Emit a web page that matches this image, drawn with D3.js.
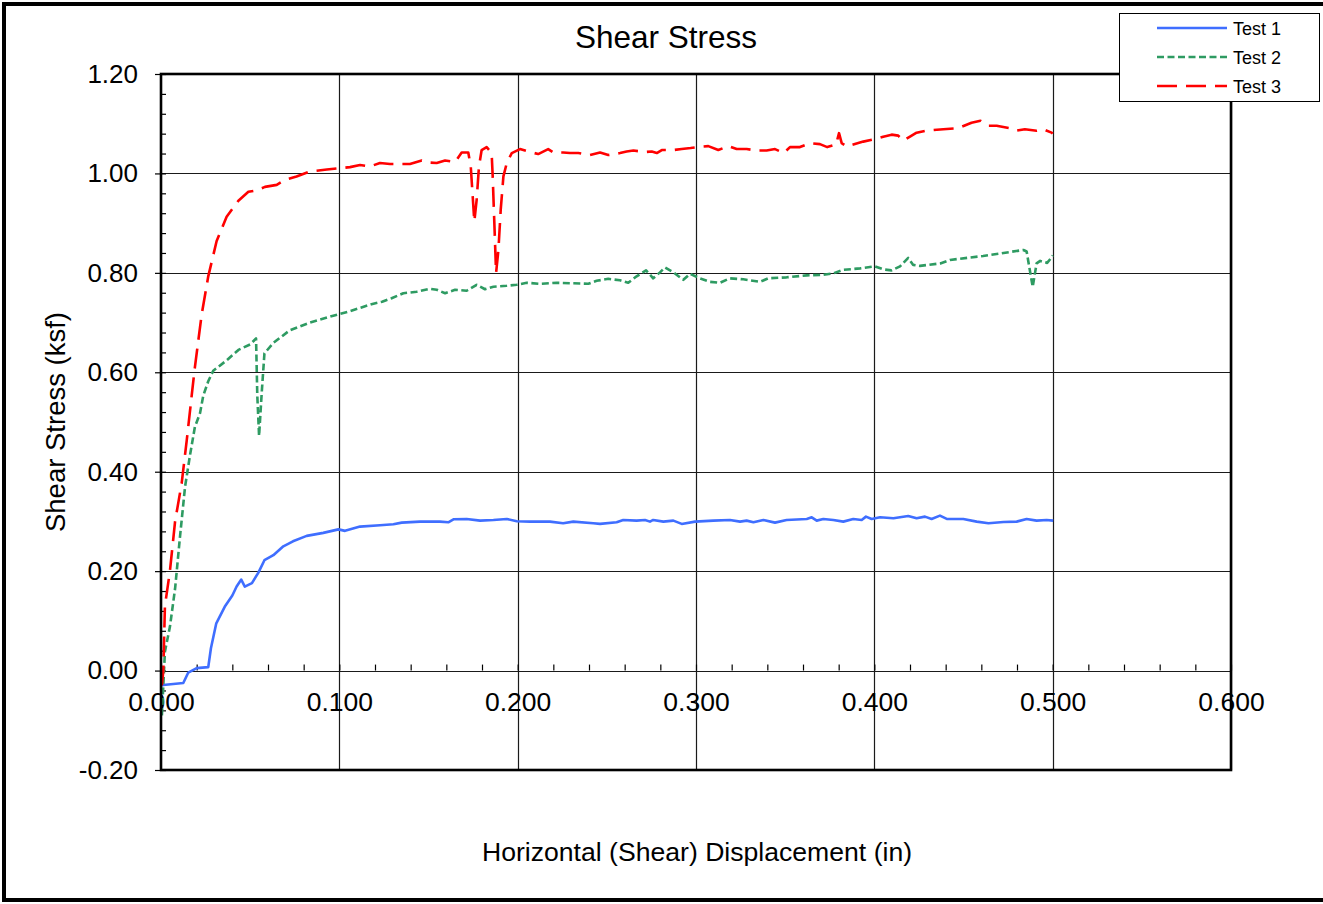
<!DOCTYPE html>
<html>
<head>
<meta charset="utf-8">
<script src="https://cdn.jsdelivr.net/npm/d3@7"></script>
<style>
  html, body { margin: 0; padding: 0; background: #fff; }
  svg { display: block; }
  text { font-family: "Liberation Sans", Arial, sans-serif; fill: #000; }
</style>
</head>
<body>
<svg id="chart" width="1323" height="904"></svg>
<script>
// ---------------- DATA ----------------
const seriesNames = ["Test 1", "Test 2", "Test 3"];
const xTickValues = [0, 0.1, 0.2, 0.3, 0.4, 0.5, 0.6];
const yTickValues = [-0.2, 0, 0.2, 0.4, 0.6, 0.8, 1.0, 1.2];

// [horizontal displacement (in), shear stress (ksf)]
const test1 = [[0.0005,-0.03],[0.0013,-0.029],[0.0125,-0.025],[0.0153,-0.004],[0.020,0.005],[0.0265,0.007],[0.028,0.045],[0.031,0.095],[0.036,0.13],[0.040,0.151],[0.0424,0.169],[0.045,0.183],[0.047,0.169],[0.051,0.176],[0.0546,0.197],[0.058,0.222],[0.063,0.232],[0.0686,0.25],[0.074,0.26],[0.0817,0.271],[0.091,0.277],[0.0995,0.284],[0.1032,0.281],[0.1116,0.2896],[0.1228,0.2923],[0.1303,0.2943],[0.135,0.2976],[0.1452,0.2996],[0.1564,0.2996],[0.1611,0.2983],[0.164,0.3043],[0.1714,0.305],[0.1789,0.3016],[0.1864,0.303],[0.1939,0.305],[0.1995,0.3003],[0.2069,0.2996],[0.2181,0.2996],[0.2255,0.2963],[0.2312,0.2996],[0.2424,0.2963],[0.2462,0.295],[0.2555,0.2983],[0.2592,0.303],[0.2667,0.3016],[0.2714,0.303],[0.2742,0.2996],[0.276,0.303],[0.2817,0.2996],[0.2873,0.3016],[0.292,0.295],[0.2995,0.2996],[0.3097,0.3016],[0.319,0.303],[0.3247,0.2996],[0.3284,0.3016],[0.3322,0.2983],[0.3378,0.303],[0.3443,0.2976],[0.3508,0.303],[0.3621,0.305],[0.3649,0.3083],[0.3677,0.3016],[0.3714,0.305],[0.377,0.303],[0.3826,0.2996],[0.3882,0.305],[0.3929,0.303],[0.3953,0.3097],[0.3985,0.305],[0.4032,0.3083],[0.4107,0.3063],[0.419,0.311],[0.4237,0.3063],[0.4284,0.3097],[0.4321,0.305],[0.4368,0.3117],[0.4406,0.305],[0.4499,0.305],[0.4574,0.2996],[0.464,0.2963],[0.4724,0.299],[0.4798,0.2996],[0.4854,0.305],[0.491,0.3016],[0.4966,0.303],[0.5003,0.3016]];

const test2 = [[0.0005,-0.09],[0.0022,0.038],[0.005,0.088],[0.0079,0.165],[0.0107,0.271],[0.0135,0.37],[0.0163,0.434],[0.019,0.49],[0.0219,0.518],[0.0237,0.553],[0.0265,0.582],[0.0293,0.603],[0.0368,0.624],[0.0434,0.645],[0.050,0.656],[0.0533,0.668],[0.054,0.553],[0.055,0.472],[0.0565,0.56],[0.058,0.638],[0.063,0.659],[0.072,0.684],[0.0836,0.70],[0.0948,0.712],[0.106,0.723],[0.112,0.73],[0.118,0.737],[0.124,0.742],[0.1293,0.749],[0.1359,0.759],[0.1434,0.762],[0.1508,0.768],[0.1546,0.766],[0.1593,0.759],[0.1649,0.766],[0.1714,0.764],[0.177,0.776],[0.1817,0.767],[0.1864,0.772],[0.1939,0.774],[0.1995,0.776],[0.2051,0.780],[0.2125,0.778],[0.2219,0.780],[0.2312,0.779],[0.2396,0.778],[0.2443,0.784],[0.2508,0.788],[0.2574,0.785],[0.262,0.780],[0.2667,0.793],[0.272,0.805],[0.276,0.789],[0.2798,0.801],[0.2826,0.811],[0.2873,0.801],[0.2929,0.786],[0.2966,0.798],[0.3022,0.789],[0.3078,0.782],[0.3134,0.780],[0.319,0.789],[0.3265,0.787],[0.3359,0.782],[0.3405,0.789],[0.3508,0.791],[0.3621,0.795],[0.3714,0.796],[0.377,0.799],[0.3826,0.806],[0.392,0.809],[0.4004,0.813],[0.405,0.807],[0.4097,0.805],[0.4144,0.813],[0.419,0.830],[0.4218,0.816],[0.4256,0.814],[0.437,0.819],[0.4424,0.826],[0.461,0.834],[0.4836,0.846],[0.4854,0.843],[0.4888,0.772],[0.491,0.819],[0.493,0.824],[0.4969,0.82],[0.4994,0.831],[0.5,0.835]];

const test3 = [[0.0005,-0.03],[0.0013,0.0],[0.0022,0.13],[0.005,0.2],[0.0079,0.30],[0.0116,0.377],[0.0144,0.462],[0.0165,0.53],[0.0172,0.553],[0.019,0.61],[0.0228,0.716],[0.0265,0.793],[0.0312,0.864],[0.0368,0.913],[0.0434,0.945],[0.049,0.963],[0.0537,0.966],[0.0583,0.973],[0.0649,0.977],[0.0695,0.987],[0.076,0.994],[0.0836,1.004],[0.093,1.008],[0.1004,1.0106],[0.106,1.0127],[0.1116,1.017],[0.1172,1.014],[0.1228,1.021],[0.1284,1.019],[0.134,1.019],[0.1396,1.019],[0.1462,1.026],[0.15,1.022],[0.1546,1.021],[0.1593,1.026],[0.1649,1.023],[0.1686,1.042],[0.1723,1.042],[0.1737,1.014],[0.1757,0.903],[0.177,0.947],[0.1783,1.014],[0.1798,1.047],[0.1826,1.053],[0.1854,1.041],[0.186,0.994],[0.1879,0.80],[0.1892,0.846],[0.1905,0.927],[0.192,0.994],[0.1939,1.021],[0.1967,1.041],[0.2013,1.049],[0.206,1.044],[0.2115,1.039],[0.2171,1.049],[0.22,1.042],[0.2255,1.042],[0.2293,1.041],[0.234,1.041],[0.2406,1.037],[0.2462,1.042],[0.2508,1.037],[0.2574,1.041],[0.2611,1.044],[0.2649,1.046],[0.2714,1.043],[0.2752,1.044],[0.278,1.041],[0.2808,1.047],[0.2873,1.047],[0.292,1.049],[0.297,1.051],[0.3032,1.054],[0.3069,1.055],[0.3125,1.047],[0.3181,1.055],[0.3228,1.049],[0.3284,1.049],[0.334,1.046],[0.3396,1.046],[0.3443,1.049],[0.3493,1.041],[0.3527,1.053],[0.3583,1.053],[0.3639,1.061],[0.3695,1.059],[0.3736,1.053],[0.3785,1.058],[0.3802,1.081],[0.3817,1.061],[0.3845,1.054],[0.3891,1.059],[0.3938,1.064],[0.4004,1.069],[0.405,1.074],[0.4097,1.078],[0.4134,1.076],[0.4163,1.066],[0.42,1.074],[0.4237,1.082],[0.429,1.086],[0.4387,1.089],[0.447,1.091],[0.4545,1.102],[0.4595,1.106],[0.464,1.096],[0.4686,1.096],[0.476,1.091],[0.4798,1.086],[0.4844,1.089],[0.491,1.086],[0.4947,1.089],[0.4994,1.082],[0.5,1.08]];

// ---------------- STYLE ----------------
const seriesData = [test1, test2, test3];
const colors = ["#3F6EFF", "#2E9B62", "#FF0000"];
const dashes = [null, "7,3.5", "20,9"];

const svg = d3.select("#chart");
const L = 161, R = 1231, T = 74, B = 770;
const x = d3.scaleLinear().domain([0, 0.6]).range([L, R]);
const y = d3.scaleLinear().domain([-0.2, 1.2]).range([B, T]);

const fmtY = d => d.toFixed(2);
const fmtX = d => d.toFixed(3);

// outer border (right edge off-canvas like the reference)
svg.append("rect").attr("x", 4).attr("y", 4).attr("width", 1340).attr("height", 896)
  .attr("fill", "#fff").attr("stroke", "#000").attr("stroke-width", 4);

// gridlines
const grid = svg.append("g");
grid.selectAll("line.h").data(yTickValues).join("line")
  .attr("x1", L).attr("x2", R)
  .attr("y1", d => Math.round(y(d)) + 0.5).attr("y2", d => Math.round(y(d)) + 0.5)
  .attr("stroke", "#1a1a1a").attr("stroke-width", 1.2);
grid.selectAll("line.v").data(xTickValues.slice(1)).join("line")
  .attr("y1", T).attr("y2", B)
  .attr("x1", d => Math.round(x(d)) + 0.5).attr("x2", d => Math.round(x(d)) + 0.5)
  .attr("stroke", "#1a1a1a").attr("stroke-width", 1.2);

// y axis: major ticks outside, minor ticks inside
const yAxis = svg.append("g").attr("transform", `translate(${L},0)`)
  .call(d3.axisLeft(y).tickValues(yTickValues).tickSize(6).tickPadding(17)
    .tickFormat(fmtY));
yAxis.select(".domain").remove();
yAxis.selectAll("line").attr("stroke", "#000").attr("stroke-width", 1.2);
yAxis.selectAll("text").attr("font-size", 26).attr("font-family", "Liberation Sans, Arial, sans-serif");

const yMinor = d3.range(-0.2, 1.2001, 0.04);
svg.append("g").attr("transform", `translate(${L},0)`)
  .call(d3.axisRight(y).tickValues(yMinor).tickSize(5).tickFormat(""))
  .call(g => g.select(".domain").remove())
  .selectAll("line").attr("stroke", "#000").attr("stroke-width", 1.2);

// x axis at y = 0: minor ticks pointing up, labels below
const y0 = y(0);
const xMinor = d3.range(0, 0.6001, 0.02);
svg.append("g").attr("transform", `translate(0,${y0})`)
  .call(d3.axisTop(x).tickValues(xMinor).tickSize(6).tickFormat(""))
  .call(g => g.select(".domain").remove())
  .selectAll("line").attr("stroke", "#000").attr("stroke-width", 1.2);

const xAxis = svg.append("g").attr("transform", `translate(0,${y0})`)
  .call(d3.axisBottom(x).tickValues(xTickValues).tickSize(0).tickPadding(22)
    .tickFormat(fmtX));
xAxis.select(".domain").remove();
xAxis.selectAll("text").attr("font-size", 26.5).attr("font-family", "Liberation Sans, Arial, sans-serif");

// series
const line = d3.line().x(d => x(d[0])).y(d => y(d[1]));
seriesData.forEach((data, i) => {
  svg.append("path").datum(data)
    .attr("d", line)
    .attr("fill", "none")
    .attr("stroke", colors[i])
    .attr("stroke-width", 2.6)
    .attr("stroke-linejoin", "round")
    .attr("stroke-dasharray", dashes[i]);
});

// plot frame
svg.append("rect").attr("x", L).attr("y", T).attr("width", R - L).attr("height", B - T)
  .attr("fill", "none").attr("stroke", "#000").attr("stroke-width", 2.6);

// titles
svg.append("text").attr("x", 666).attr("y", 48).attr("text-anchor", "middle")
  .attr("font-size", 31.5).text("Shear Stress");
svg.append("text").attr("x", 697).attr("y", 861).attr("text-anchor", "middle")
  .attr("font-size", 26.6).text("Horizontal (Shear) Displacement (in)");
svg.append("text").attr("transform", "translate(65,422) rotate(-90)")
  .attr("text-anchor", "middle").attr("font-size", 27.5).text("Shear Stress (ksf)");

// legend
const lg = svg.append("g");
lg.append("rect").attr("x", 1119.5).attr("y", 13.5).attr("width", 200).attr("height", 88)
  .attr("fill", "#fff").attr("stroke", "#000").attr("stroke-width", 1);
seriesNames.forEach((name, i) => {
  const yy = 28 + i * 29;
  lg.append("line").attr("x1", 1157).attr("x2", 1227).attr("y1", yy).attr("y2", yy)
    .attr("stroke", colors[i]).attr("stroke-width", 2.6).attr("stroke-dasharray", dashes[i]);
  lg.append("text").attr("x", 1233).attr("y", yy + 6.5).attr("font-size", 18).text(name);
});
</script>
</body>
</html>
